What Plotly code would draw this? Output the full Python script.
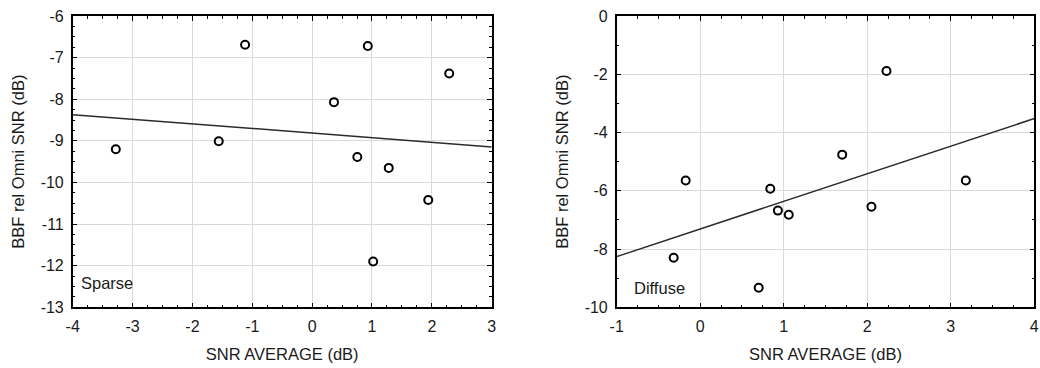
import numpy as np
import plotly.graph_objects as go

# Sparse condition: SNR average vs. BBF gain relative to omni SNR (dB)
sparse_snr = [-3.28, -1.56, -1.12, 0.365, 0.93, 2.29, 0.755, 1.28, 1.94, 1.02]
sparse_bbf = [-9.20, -9.01, -6.69, -8.07, -6.72, -7.38, -9.39, -9.65, -10.42, -11.90]

# Diffuse condition
diffuse_snr = [-0.174, -0.318, 0.839, 0.93, 1.06, 0.70, 1.70, 2.05, 2.23, 3.18]
diffuse_bbf = [-5.65, -8.30, -5.93, -6.68, -6.82, -9.33, -4.76, -6.55, -1.89, -5.65]

sparse_xrange = [-4, 3]
sparse_yrange = [-13, -6]
diffuse_xrange = [-1, 4]
diffuse_yrange = [-10, 0]

# tick positions and labels (plain hyphen minus signs)
sparse_xticks = [-4, -3, -2, -1, 0, 1, 2, 3]
sparse_xlabels = ["-4", "-3", "-2", "-1", "0", "1", "2", "3"]
sparse_yticks = [-13, -12, -11, -10, -9, -8, -7, -6]
sparse_ylabels = ["-13", "-12", "-11", "-10", "-9", "-8", "-7", "-6"]
diffuse_xticks = [-1, 0, 1, 2, 3, 4]
diffuse_xlabels = ["-1", "0", "1", "2", "3", "4"]
diffuse_yticks = [-10, -8, -6, -4, -2, 0]
diffuse_ylabels = ["-10", "-8", "-6", "-4", "-2", "0"]

x_title = "SNR AVERAGE (dB)"
y_title = "BBF rel Omni SNR (dB)"

FONT = "Liberation Sans, Arial, sans-serif"
TXT = "#1a1a1a"

fig = go.Figure()


def add_panel(xs, ys, xrange, xref, yref):
    # least-squares fit drawn across the full x range
    slope, icpt = np.polyfit(xs, ys, 1)
    fx = np.array(xrange, dtype=float)
    fig.add_trace(go.Scatter(
        x=fx, y=slope * fx + icpt, mode="lines",
        line=dict(color="#2b2b2b", width=1.5),
        xaxis=xref, yaxis=yref, showlegend=False, hoverinfo="skip"))
    fig.add_trace(go.Scatter(
        x=xs, y=ys, mode="markers",
        marker=dict(symbol="circle-open", size=8, color="black",
                    line=dict(width=2, color="black")),
        xaxis=xref, yaxis=yref, showlegend=False))


add_panel(sparse_snr, sparse_bbf, sparse_xrange, "x", "y")
add_panel(diffuse_snr, diffuse_bbf, diffuse_xrange, "x2", "y2")


def axis(rng, tickvals, ticktext, minor, domain, anchor, title, standoff):
    return dict(
        range=rng, tickmode="array", tickvals=tickvals, ticktext=ticktext,
        domain=domain, anchor=anchor, automargin=False,
        showline=True, linecolor="black", linewidth=1.5, mirror="allticks",
        ticks="inside", ticklen=5, tickwidth=1, tickcolor="black",
        showgrid=True, gridcolor="#d9d9d9", gridwidth=1, zeroline=False,
        tickfont=dict(family=FONT, size=16, color=TXT),
        ticklabelstandoff=4,
        minor=dict(dtick=minor, tick0=0, ticks="inside", ticklen=3,
                   tickcolor="black", tickwidth=1, showgrid=False),
        title=dict(text=title, standoff=standoff,
                   font=dict(family=FONT, size=16.5, color=TXT)),
    )


W, H = 1040, 368
ydom = [1 - 307.3 / H, 1 - 16 / H]

fig.update_layout(
    width=W, height=H,
    margin=dict(l=0, r=0, t=0, b=0),
    paper_bgcolor="white", plot_bgcolor="white",
    showlegend=False,
    xaxis=axis(sparse_xrange, sparse_xticks, sparse_xlabels, 0.25,
               [72.7 / W, 491.7 / W], "y", x_title, 14),
    yaxis=axis(sparse_yrange, sparse_yticks, sparse_ylabels, 0.25,
               ydom, "x", y_title, 12),
    xaxis2=axis(diffuse_xrange, diffuse_xticks, diffuse_xlabels, 0.25,
                [616.7 / W, 1034.3 / W], "y2", x_title, 14),
    yaxis2=axis(diffuse_yrange, diffuse_yticks, diffuse_ylabels, 1,
                ydom, "x2", y_title, 12),
    annotations=[
        dict(text="Sparse", x=0, y=0, xref="x domain", yref="y domain",
             xanchor="left", yanchor="bottom", xshift=6, yshift=13,
             showarrow=False, font=dict(family=FONT, size=16.5, color=TXT)),
        dict(text="Diffuse", x=0, y=0, xref="x2 domain", yref="y2 domain",
             xanchor="left", yanchor="bottom", xshift=15, yshift=8,
             showarrow=False, font=dict(family=FONT, size=16.5, color=TXT)),
    ],
)

fig.write_html("out.html")
